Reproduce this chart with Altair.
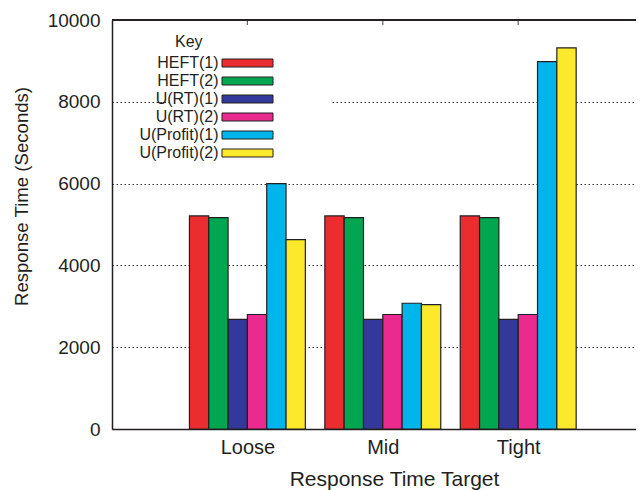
import altair as alt
import pandas as pd

categories = ["Loose", "Mid", "Tight"]
series = ["HEFT(1)", "HEFT(2)", "U(RT)(1)", "U(RT)(2)", "U(Profit)(1)", "U(Profit)(2)"]
heft1 = [5210, 5210, 5210]
heft2 = [5170, 5170, 5170]
urt1 = [2680, 2680, 2680]
urt2 = [2800, 2800, 2800]
uprofit1 = [6000, 3075, 8980]
uprofit2 = [4630, 3040, 9320]
colors = ["#ec2d2f", "#00a650", "#33399a", "#ea2a8f", "#00b5ec", "#fde92b"]
y_ticks = [0, 2000, 4000, 6000, 8000, 10000]

values = [heft1, heft2, urt1, urt2, uprofit1, uprofit2]
rows = []
for k, (name, vals) in enumerate(zip(series, values)):
    for g, cat in enumerate(categories):
        rows.append({"category": cat, "group": g, "series": name, "k": k, "value": vals[g]})
df = pd.DataFrame(rows)
cat_df = pd.DataFrame({"group": list(range(len(categories))), "category": categories})

BW = 0.1427
ink = "#231f20"
label_expr = "[" + ",".join("'" + c + "'" for c in categories) + "][datum.value]"

xscale = alt.Scale(domain=[-1, 2.87], nice=False, zero=False)
yscale = alt.Scale(domain=[0, 10000], nice=False)

# swatch rectangle; the two zero-length subpaths only widen the key's opaque box
swatch = "M-6.375,-1L6.375,-1L6.375,1L-6.375,1Z M18.9,0L18.9,0 M-32.4,0L-32.4,0"

legend = alt.Legend(
    orient="none", legendX=59, legendY=10,
    title="Key", titleFontSize=16, titleFontWeight="normal", titleColor=ink,
    titleFont="Liberation Sans",
    labelFontSize=16, labelColor=ink, labelFont="Liberation Sans",
    labelAlign="right", labelOffset={"expr": "-37"}, symbolOffset=64.5,
    symbolType=swatch, symbolSize=64,
    symbolStrokeColor=ink, symbolStrokeWidth=1, symbolOpacity=1,
    fillColor="white", padding=4, rowPadding=2,
)

bars = alt.Chart(df).transform_calculate(
    x0=f"datum.group + (datum.k - 3) * {BW}",
    x1=f"datum.group + (datum.k - 2) * {BW}",
).mark_bar(stroke=ink, strokeWidth=1.2).encode(
    x=alt.X("x0:Q", scale=xscale, axis=alt.Axis(
        values=[0, 1, 2], labelExpr=label_expr, ticks=False, tickSize=0,
        grid=False, domain=True, domainColor=ink, domainWidth=1.5,
        labelFontSize=20, labelPadding=8, labelColor=ink, labelFont="Liberation Sans",
        title="Response Time Target", titleFontSize=21, titleFontWeight="normal",
        titleColor=ink, titlePadding=11, titleFont="Liberation Sans", titleX=282,
    )),
    x2="x1:Q",
    y=alt.Y("value:Q", scale=yscale, axis=alt.Axis(
        values=y_ticks, format="d", ticks=False, tickSize=0, grid=True,
        gridDash=[1.5, 2.5], gridColor="#333333", gridWidth=1,
        domain=True, domainColor=ink, domainWidth=1.5,
        labelFontSize=19, labelPadding=12, labelColor=ink, labelFont="Liberation Sans",
        title="Response Time (Seconds)", titleFontSize=18.6, titleFontWeight="normal",
        titleColor=ink, titlePadding=16, titleFont="Liberation Sans", titleY=176,
    )),
    y2=alt.datum(0),
    color=alt.Color("series:N", scale=alt.Scale(domain=series, range=colors), legend=legend),
)

top_border = alt.Chart(cat_df).mark_rule(color=ink, strokeWidth=1.5).encode(
    y=alt.datum(10000)
)

top_ticks = alt.Chart(cat_df).mark_tick(color=ink, size=10, thickness=1.2, clip=True, orient="vertical").encode(
    x=alt.X("group:Q", scale=xscale),
    y=alt.datum(10000),
)

chart = alt.layer(bars, top_border, top_ticks).properties(
    width=524, height=409,
    autosize=alt.AutoSizeParams(type="none"),
    padding={"left": 104, "top": 12, "right": 0, "bottom": 62},
).configure_view(stroke=None).configure(font="Liberation Sans")

chart.save("out.html", embed_options={"renderer": "svg", "actions": False})
